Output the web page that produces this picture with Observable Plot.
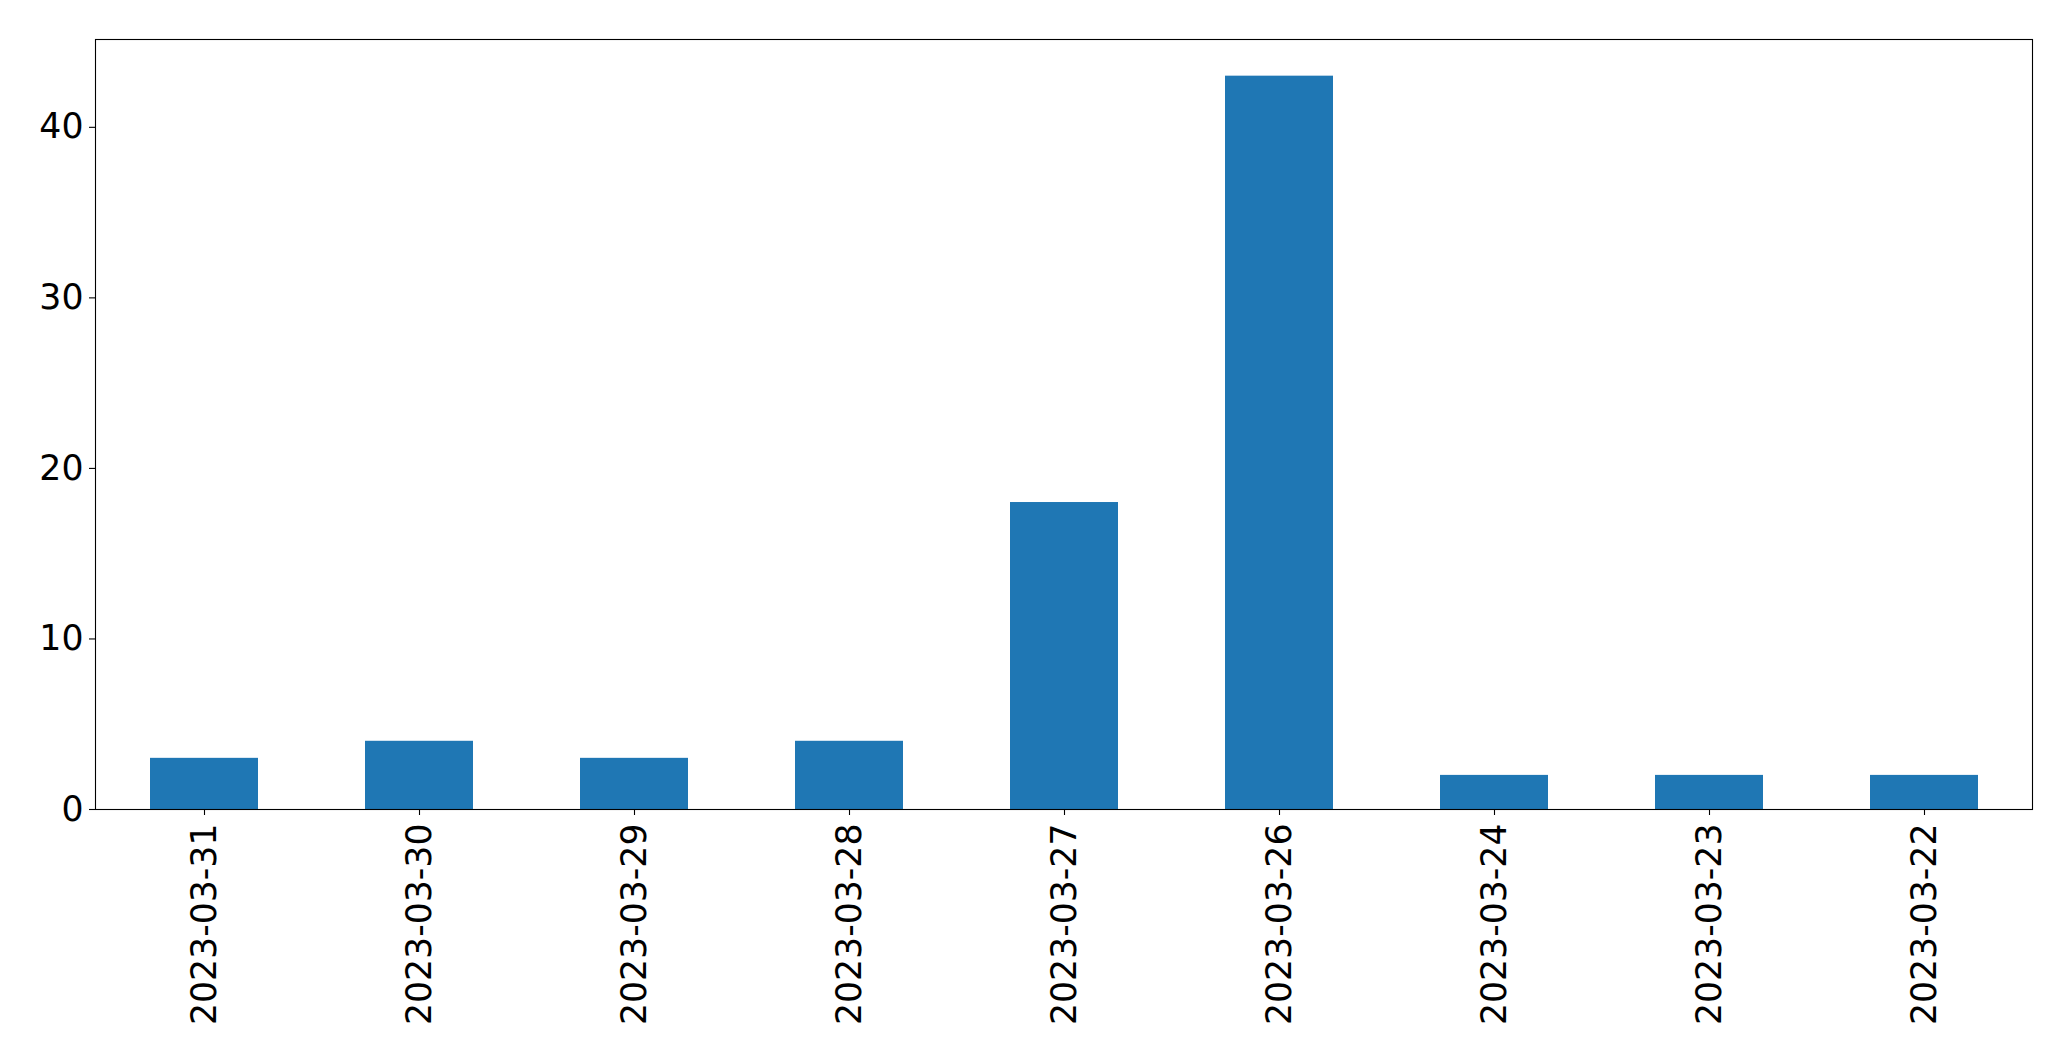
<!DOCTYPE html>
<html>
<head>
<meta charset="utf-8">
<script src="https://cdn.jsdelivr.net/npm/d3@7"></script>
<script src="https://cdn.jsdelivr.net/npm/@observablehq/plot@0.6"></script>
<style>
  html, body { margin: 0; padding: 0; background: #fff; }
  #chart svg { display: block; }
</style>
</head>
<body>
<div id="chart"></div>
<script>
const dates = ["2023-03-31", "2023-03-30", "2023-03-29", "2023-03-28", "2023-03-27", "2023-03-26", "2023-03-24", "2023-03-23", "2023-03-22"];
const counts = [3, 4, 3, 4, 18, 43, 2, 2, 2];
const yTicks = [0, 10, 20, 30, 40];

const data = dates.map((d, i) => ({date: d, count: counts[i]}));

const chart = Plot.plot({
  width: 2071,
  height: 1061,
  marginLeft: 95,
  marginRight: 39,
  marginTop: 39,
  marginBottom: 252,
  style: {fontFamily: "DejaVu Sans", fontSize: "34.7px", color: "#000", background: "#fff"},
  x: {type: "band", domain: dates, paddingInner: 0.5, paddingOuter: 0.25, align: 0.5},
  y: {domain: [0, 45.15]},
  marks: [
    Plot.barY(data, {x: "date", y: "count", fill: "#1f77b4"}),
    Plot.frame({stroke: "#000", strokeWidth: 1.1}),
    Plot.axisY({ticks: yTicks, tickSize: 6, tickPadding: 6, label: null, stroke: "#000", strokeWidth: 1.1, fontSize: 34.7}),
    Plot.axisX({tickRotate: -90, tickSize: 6, tickPadding: 8, label: null, stroke: "#000", strokeWidth: 1.1, fontSize: 34.7})
  ]
});
document.getElementById("chart").appendChild(chart);
</script>
</body>
</html>
